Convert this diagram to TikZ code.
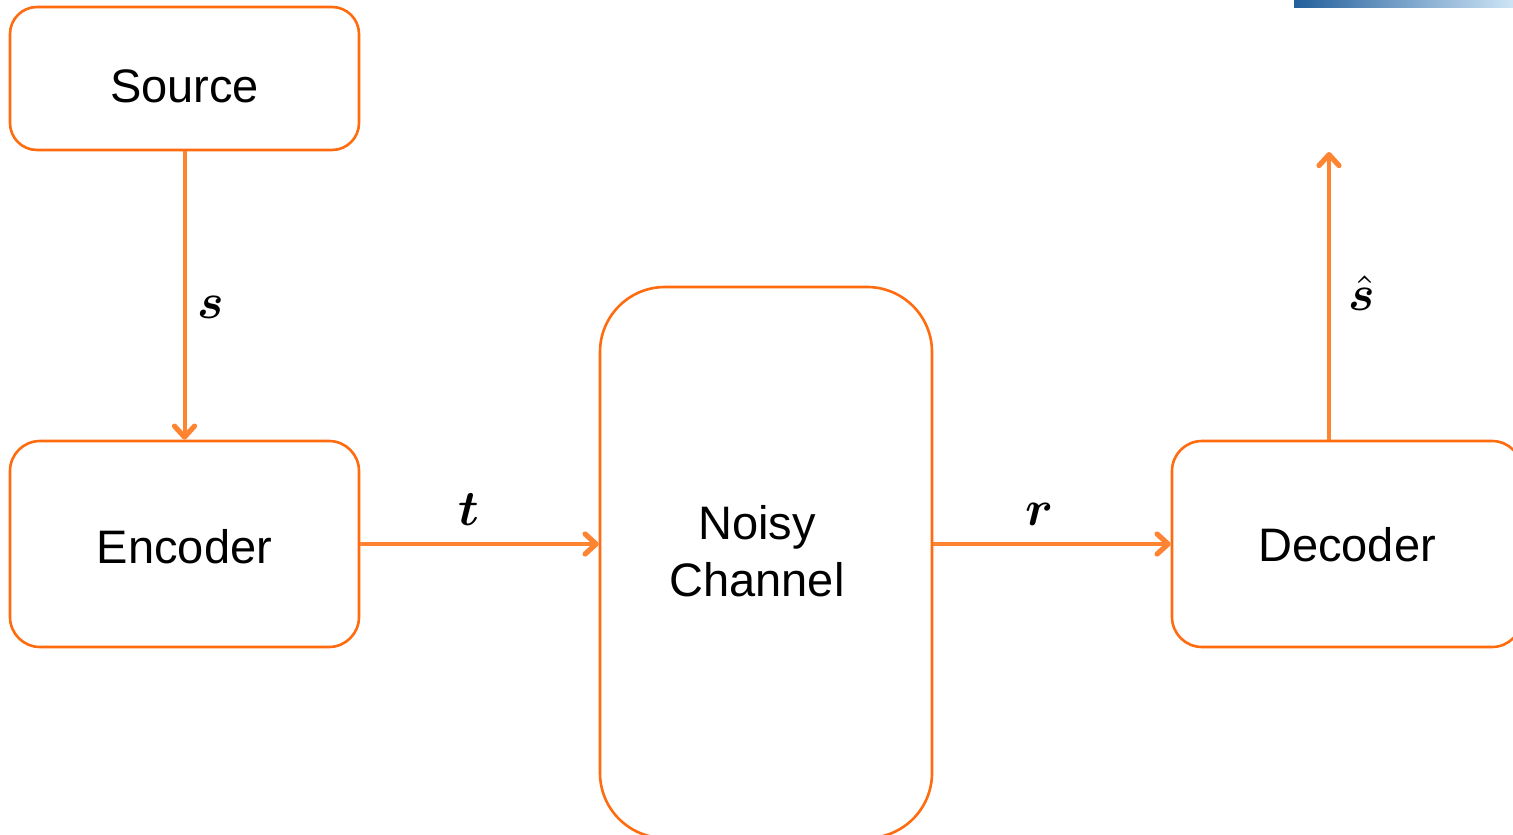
\documentclass[tikz,border=0pt]{standalone}
\usepackage{bm}
\usepackage{fontspec}
\setmainfont{Liberation Sans}
\usetikzlibrary{arrows.meta}
\definecolor{boxorange}{RGB}{255,108,15}
\definecolor{arroworange}{RGB}{255,132,50}
\definecolor{bardark}{RGB}{35,95,155}
\definecolor{barlight}{RGB}{205,228,246}
\tikzset{
  blockbox/.style={draw=boxorange, line width=2.6pt, rounded corners=#1, fill=white,
    font=\fontsize{47}{52}\selectfont, align=center, inner sep=0pt, text depth=0pt},
  flow/.style={draw=arroworange, line width=4pt,
    -{Straight Barb[length=11pt,width=20pt,line width=0pt 1.3,round]}},
  lettertag/.style={inner sep=0pt}
}
\begin{document}
\begin{tikzpicture}[x=1pt,y=-1pt]
\useasboundingbox (0,0) rectangle (1513,835);
\begin{scope}
\clip (0,0) rectangle (1513,835);
\shade[left color=bardark, right color=barlight] (1294,0) rectangle (1513,7);
\node[blockbox=27pt, minimum width=349pt, minimum height=143pt, text height=48.6pt] (src) at (184.5,78.5) {Source};
\node[blockbox=30pt, minimum width=349pt, minimum height=206pt, text height=39.6pt] (enc) at (184.5,544) {Encoder};
\node[blockbox=65pt, minimum width=332pt, minimum height=551pt] (chn) at (766,562.5) {};
\node[font=\fontsize{47}{57}\selectfont, align=center, inner sep=0pt] (chtxt) at (757,551) {Noisy\\Channel};
\node[blockbox=30pt, minimum width=350pt, minimum height=206pt, text height=35.6pt] (dec) at (1347,544) {Decoder};
\coordinate (out) at (1329,152);
\draw[flow] (src.south) -- (enc.north);
\draw[flow] (enc.east) -- (chn.west |- enc.east);
\draw[flow] (chn.east |- dec.west) -- (dec.west);
\draw[flow] (out |- dec.north) -- (out);
\node[lettertag] (ls) at (211,307) {\scalebox{5}{$\bm{s}$}};
\node[lettertag] (lt) at (469,510) {\scalebox{5}{$\bm{t}$}};
\node[lettertag] (lr) at (1040,514) {\scalebox{5}{$\bm{r}$}};
\node[lettertag] (lsh) at (1362,293) {\scalebox{5}{$\bm{\hat{s}}$}};
\end{scope}
\end{tikzpicture}
\end{document}
